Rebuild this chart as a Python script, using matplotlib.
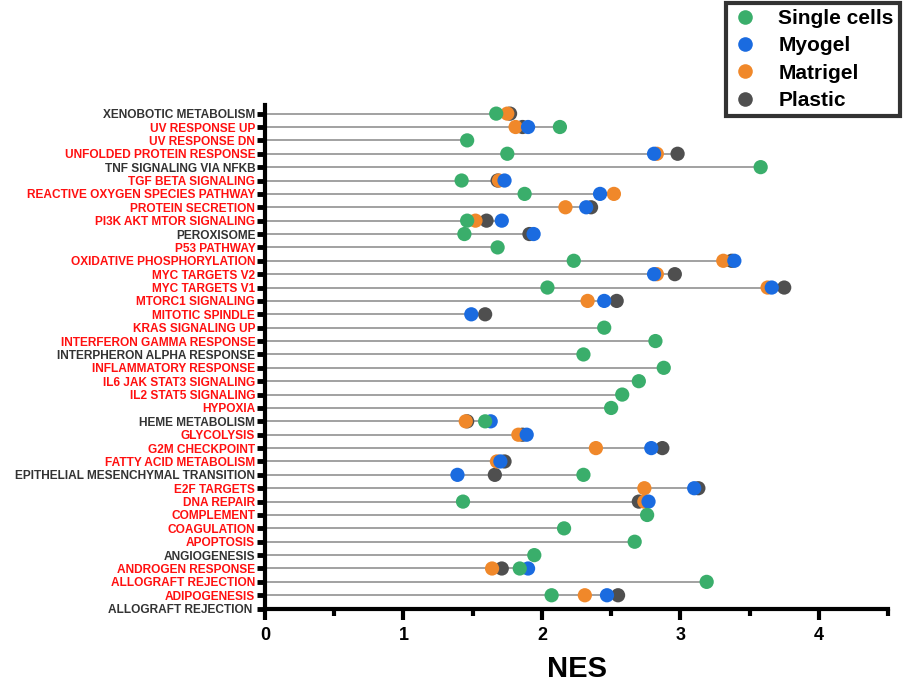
import numpy as np
import matplotlib
matplotlib.use('Agg')
import matplotlib.pyplot as plt
from matplotlib.ticker import MultipleLocator
from matplotlib.lines import Line2D

plt.rcParams['font.family'] = ['Liberation Sans', 'DejaVu Sans']
plt.rcParams['font.weight'] = 'bold'

nan = np.nan

# Hallmark pathways, top to bottom
pathways = ['XENOBOTIC METABOLISM', 'UV RESPONSE UP', 'UV RESPONSE DN',
            'UNFOLDED PROTEIN RESPONSE', 'TNF SIGNALING VIA NFKB', 'TGF BETA SIGNALING',
            'REACTIVE OXYGEN SPECIES PATHWAY', 'PROTEIN SECRETION', 'PI3K AKT MTOR SIGNALING',
            'PEROXISOME', 'P53 PATHWAY', 'OXIDATIVE PHOSPHORYLATION', 'MYC TARGETS V2',
            'MYC TARGETS V1', 'MTORC1 SIGNALING', 'MITOTIC SPINDLE', 'KRAS SIGNALING UP',
            'INTERFERON GAMMA RESPONSE', 'INTERPHERON ALPHA RESPONSE', 'INFLAMMATORY RESPONSE',
            'IL6 JAK STAT3 SIGNALING', 'IL2 STAT5 SIGNALING', 'HYPOXIA', 'HEME METABOLISM',
            'GLYCOLYSIS', 'G2M CHECKPOINT', 'FATTY ACID METABOLISM',
            'EPITHELIAL MESENCHYMAL TRANSITION', 'E2F TARGETS', 'DNA REPAIR', 'COMPLEMENT',
            'COAGULATION', 'APOPTOSIS', 'ANGIOGENESIS', 'ANDROGEN RESPONSE',
            'ALLOGRAFT REJECTION', 'ADIPOGENESIS', 'ALLOGRAFT REJECTION ']

# pathways highlighted in red
highlighted = [0, 1, 1, 1, 0, 1, 1, 1, 1, 0, 1, 1, 1, 1, 1, 1, 1, 1, 0, 1,
               1, 1, 1, 0, 1, 1, 1, 0, 1, 1, 1, 1, 1, 0, 1, 1, 1, 0]

# NES per condition (nan = not significant)
single_cells = [1.67, 2.13, 1.46, 1.75, 3.58, 1.42, 1.875, nan, 1.46, 1.44, 1.68, 2.23, nan,
                2.04, nan, nan, 2.45, 2.82, 2.30, 2.88, 2.70, 2.58, 2.50, 1.59, nan, nan, nan,
                2.30, nan, 1.43, 2.76, 2.16, 2.67, 1.945, 1.84, 3.19, 2.07, nan]
myogel = [nan, 1.90, nan, 2.81, nan, 1.73, 2.42, 2.32, 1.71, 1.94, nan, 3.39, 2.81,
          3.66, 2.45, 1.49, nan, nan, nan, nan, nan, nan, nan, 1.63, 1.89, 2.79, 1.70,
          1.39, 3.10, 2.77, nan, nan, nan, nan, 1.90, nan, 2.47, nan]
matrigel = [1.75, 1.81, nan, 2.83, nan, 1.69, 2.52, 2.17, 1.52, nan, nan, 3.31, 2.83,
            3.63, 2.33, nan, nan, nan, nan, nan, nan, nan, nan, 1.45, 1.83, 2.39, 1.675,
            nan, 2.74, 2.74, nan, nan, nan, nan, 1.64, nan, 2.31, nan]
plastic = [1.77, 1.86, nan, 2.98, nan, 1.68, nan, 2.355, 1.60, 1.91, nan, 3.37, 2.96,
           3.75, 2.54, 1.59, nan, nan, nan, nan, nan, nan, nan, 1.46, 1.86, 2.87, 1.73,
           1.66, 3.13, 2.70, nan, nan, nan, nan, 1.71, nan, 2.55, nan]

series = [('Single cells', single_cells, '#3AAE6B'),
          ('Myogel', myogel, '#1A6BE0'),
          ('Matrigel', matrigel, '#F0882A'),
          ('Plastic', plastic, '#4F4F4F')]

n = len(pathways)
ypos = np.arange(n)[::-1]

fig = plt.figure(figsize=(9.11, 6.84), dpi=100)
ax = fig.add_axes([0.2909, 0.1096, 0.6839, 0.7368])

# stems from 0 to the largest NES of each pathway
vals = np.array([s[1] for s in series], dtype=float)
row_max = np.nanmax(np.where(np.isnan(vals), -np.inf, vals), axis=0)
for y, m in zip(ypos, row_max):
    if np.isfinite(m):
        ax.plot([0, m], [y, y], color='#9a9a9a', lw=1.3, zorder=1)

# plastic underneath, single cells on top
for z, (name, v, c) in enumerate(reversed(series)):
    ax.scatter(v, ypos, s=105, color=c, edgecolors='none', zorder=3 + z)

ax.set_xlim(0, 4.5)
ax.set_ylim(-0.03, n - 1 + 0.64)
ax.set_yticks(ypos)
ax.set_yticklabels(pathways)
for lab, h in zip(ax.get_yticklabels(), highlighted):
    lab.set_color('#FF1010' if h else '#333333')
    lab.set_fontsize(8.6)
    lab.set_fontweight('bold')

ax.xaxis.set_major_locator(MultipleLocator(1))
ax.xaxis.set_minor_locator(MultipleLocator(0.5))
ax.tick_params(axis='x', which='major', length=8, width=3, labelsize=13, pad=5)
ax.tick_params(axis='x', which='minor', length=5, width=3)
ax.tick_params(axis='y', length=6, width=3.5, pad=1)
for lab in ax.get_xticklabels():
    lab.set_fontweight('bold')

for side in ['top', 'right']:
    ax.spines[side].set_visible(False)
for side in ['left', 'bottom']:
    ax.spines[side].set_linewidth(3)

ax.set_xlabel('NES', fontsize=21, fontweight='bold', labelpad=8)

handles = [Line2D([], [], marker='o', ls='none', markersize=10.5, color=c,
                  markeredgewidth=0) for _, _, c in series]
leg = fig.legend(handles, [s[0] for s in series], loc='upper right',
                 bbox_to_anchor=(0.988, 0.996), frameon=True, fancybox=False,
                 prop={'weight': 'bold', 'size': 15}, handlelength=1.2,
                 handletextpad=1.0, labelspacing=0.4, borderpad=0.3,
                 borderaxespad=0)
leg.get_frame().set_edgecolor('black')
leg.get_frame().set_linewidth(3)

fig.savefig('out.png', dpi=100)
